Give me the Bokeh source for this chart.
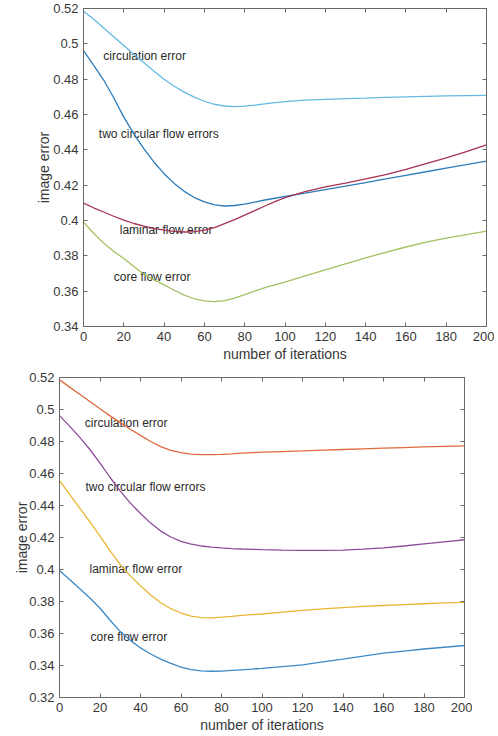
from bokeh.plotting import figure
from bokeh.layouts import column
from bokeh.models import Range1d, FixedTicker, LinearAxis
from bokeh.core.properties import value
from bokeh.embed import file_html
from bokeh.resources import INLINE

# ---------------- data ----------------
iterations = [0, 5, 10, 15, 20, 25, 30, 35, 40, 45, 50, 55, 60, 65, 70, 75, 80, 85, 90, 95, 100,
              110, 120, 130, 140, 150, 160, 170, 180, 190, 200]

# top panel
top_circulation = [0.5185, 0.5140, 0.5090, 0.5040, 0.4990, 0.4940, 0.4893, 0.4845, 0.4800, 0.4760, 0.4727,
                   0.4698, 0.4675, 0.4658, 0.4648, 0.4645, 0.4647, 0.4653, 0.4660, 0.4667, 0.4673,
                   0.4681, 0.4686, 0.4690, 0.4693, 0.4697, 0.4700, 0.4703, 0.4705, 0.4707, 0.4708]
top_two_circular = [0.4962, 0.4880, 0.4795, 0.4695, 0.4585, 0.4490, 0.4405, 0.4330, 0.4265, 0.4210, 0.4165,
                    0.4130, 0.4105, 0.4088, 0.4082, 0.4085, 0.4093, 0.4104, 0.4116, 0.4126, 0.4136,
                    0.4155, 0.4175, 0.4195, 0.4215, 0.4235, 0.4256, 0.4276, 0.4297, 0.4316, 0.4336]
top_laminar = [0.4098, 0.4072, 0.4048, 0.4024, 0.4002, 0.3983, 0.3968, 0.3955, 0.3945, 0.3938, 0.3935,
               0.3937, 0.3945, 0.3960, 0.3982, 0.4005, 0.4030, 0.4056, 0.4082, 0.4107, 0.4130,
               0.4163, 0.4190, 0.4212, 0.4235, 0.4260, 0.4290, 0.4322, 0.4355, 0.4390, 0.4428]
top_core = [0.3991, 0.3928, 0.3872, 0.3825, 0.3785, 0.3740, 0.3695, 0.3664, 0.3636, 0.3605, 0.3578,
            0.3557, 0.3545, 0.3541, 0.3547, 0.3561, 0.3580, 0.3600, 0.3620, 0.3636, 0.3651,
            0.3686, 0.3720, 0.3755, 0.3789, 0.3820, 0.3850, 0.3877, 0.3900, 0.3920, 0.3940]

# bottom panel
bot_circulation = [0.5185, 0.5140, 0.5095, 0.5050, 0.5005, 0.4960, 0.4918, 0.4877, 0.4838, 0.4800, 0.4768,
                   0.4745, 0.4730, 0.4721, 0.4718, 0.4718, 0.4720, 0.4723, 0.4727, 0.4730, 0.4733,
                   0.4737, 0.4741, 0.4746, 0.4750, 0.4754, 0.4758, 0.4762, 0.4766, 0.4770, 0.4773]
bot_two_circular = [0.4962, 0.4896, 0.4826, 0.4750, 0.4665, 0.4575, 0.4490, 0.4415, 0.4350, 0.4290, 0.4240,
                    0.4203, 0.4176, 0.4158, 0.4147, 0.4140, 0.4135, 0.4131, 0.4128, 0.4126, 0.4124,
                    0.4121, 0.4119, 0.4119, 0.4121, 0.4127, 0.4135, 0.4147, 0.4160, 0.4173, 0.4186]
bot_laminar = [0.4556, 0.4470, 0.4384, 0.4297, 0.4208, 0.4117, 0.4030, 0.3960, 0.3899, 0.3841, 0.3792,
               0.3755, 0.3728, 0.3709, 0.3699, 0.3698, 0.3702, 0.3707, 0.3713, 0.3718, 0.3722,
               0.3734, 0.3745, 0.3754, 0.3762, 0.3769, 0.3775, 0.3781, 0.3786, 0.3791, 0.3795]
bot_core = [0.3994, 0.3938, 0.3880, 0.3822, 0.3758, 0.3683, 0.3612, 0.3557, 0.3510, 0.3472, 0.3440,
            0.3413, 0.3390, 0.3374, 0.3366, 0.3364, 0.3365, 0.3369, 0.3373, 0.3377, 0.3382,
            0.3393, 0.3404, 0.3422, 0.3440, 0.3459, 0.3477, 0.3490, 0.3503, 0.3514, 0.3525]

# labels on the curves
label_texts = ["circulation error", "two circular flow errors", "laminar flow error", "core flow error"]
top_label_x = [9.8, 7.6, 18.0, 15.0]
top_label_y = [0.4930, 0.4487, 0.3944, 0.3680]
bot_label_x = [12.5, 12.8, 14.8, 15.3]
bot_label_y = [0.4914, 0.4514, 0.4004, 0.3581]

# ticks
x_ticks = [0, 20, 40, 60, 80, 100, 120, 140, 160, 180, 200]
top_y_ticks = [0.34, 0.36, 0.38, 0.4, 0.42, 0.44, 0.46, 0.48, 0.5, 0.52]
top_y_labels = ["0.34", "0.36", "0.38", "0.4", "0.42", "0.44", "0.46", "0.48", "0.5", "0.52"]
bot_y_ticks = [0.32, 0.34, 0.36, 0.38, 0.4, 0.42, 0.44, 0.46, 0.48, 0.5, 0.52]
bot_y_labels = ["0.32", "0.34", "0.36", "0.38", "0.4", "0.42", "0.44", "0.46", "0.48", "0.5", "0.52"]

x_title = "number of iterations"
y_title = "image error"

top_colors = ["#64BAE2", "#2C7BBA", "#A63150", "#A3C160"]
bot_colors = ["#E0693D", "#8C4B9C", "#E9B632", "#3C89C6"]

FONT = "Liberation Sans"
AX_COLOR = "#6a6a6a"
TXT_COLOR = "#383838"


def style_axis(ax):
    ax.axis_line_color = AX_COLOR
    ax.major_tick_line_color = AX_COLOR
    ax.major_tick_in = 4
    ax.major_tick_out = 0
    ax.minor_tick_line_color = None
    ax.major_label_text_font = FONT
    ax.major_label_text_font_size = "13px"
    ax.major_label_text_color = TXT_COLOR
    ax.axis_label_text_font = FONT
    ax.axis_label_text_font_size = "14px"
    ax.axis_label_text_font_style = "normal"
    ax.axis_label_text_color = TXT_COLOR


def make_panel(width, height, left, right, top, bottom, y_lo, y_hi, y_ticks, y_labels,
               series, colors, lab_x, lab_y, ylab_standoff):
    p = figure(width=width, height=height, output_backend="svg", toolbar_location=None,
               x_range=Range1d(0, 200), y_range=Range1d(y_lo, y_hi),
               min_border_left=left, min_border_right=right,
               min_border_top=top, min_border_bottom=bottom)
    p.grid.visible = False
    p.outline_line_color = AX_COLOR
    p.background_fill_color = "white"
    p.border_fill_color = "white"

    p.xaxis.ticker = FixedTicker(ticks=x_ticks)
    p.yaxis.ticker = FixedTicker(ticks=y_ticks)
    p.yaxis.major_label_overrides = dict(zip(y_ticks, y_labels))
    p.xaxis.axis_label = x_title
    p.yaxis.axis_label = y_title
    style_axis(p.xaxis[0])
    style_axis(p.yaxis[0])
    p.xaxis.major_label_standoff = 5
    p.xaxis.axis_label_standoff = 2
    p.yaxis.major_label_standoff = 5
    p.yaxis.axis_label_standoff = ylab_standoff

    # mirrored ticks on top and right (box style), no labels
    top_ax = LinearAxis(ticker=FixedTicker(ticks=x_ticks))
    right_ax = LinearAxis(ticker=FixedTicker(ticks=y_ticks))
    for ax in (top_ax, right_ax):
        style_axis(ax)
        ax.major_label_text_color = None
        ax.major_label_standoff = 0
        ax.axis_label_standoff = 0
    p.add_layout(top_ax, "above")
    p.add_layout(right_ax, "right")

    p.text(x=lab_x, y=lab_y, text=label_texts, text_font=value(FONT),
           text_font_size="12px", text_color="#2a2a2a",
           text_align="left", text_baseline="middle")

    for ys, c in zip(series, colors):
        p.line(iterations, ys, line_color=c, line_width=1.3)
    return p


p1 = make_panel(494, 366, 83, 8, 8, 40, 0.34, 0.52, top_y_ticks, top_y_labels,
                [top_circulation, top_two_circular, top_laminar, top_core],
                top_colors, top_label_x, top_label_y, -2)
p2 = make_panel(472, 370, 59, 8, 11, 39, 0.32, 0.52, bot_y_ticks, bot_y_labels,
                [bot_circulation, bot_two_circular, bot_laminar, bot_core],
                bot_colors, bot_label_x, bot_label_y, -4)

layout = column(column(p1), column(p2))
open("out.html", "w").write(file_html(layout, INLINE))
